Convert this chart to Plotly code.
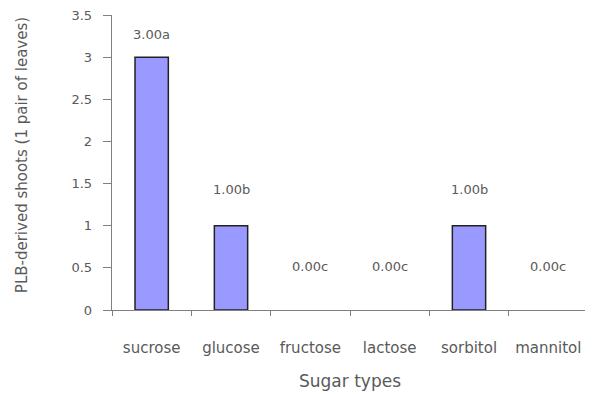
import plotly.graph_objects as go

categories = ["sucrose", "glucose", "fructose", "lactose", "sorbitol", "mannitol"]
values = [3.0, 1.0, 0.0, 0.0, 1.0, 0.0]
labels = ["3.00a", "1.00b", "0.00c", "0.00c", "1.00b", "0.00c"]
label_y = [3.27, 1.43, 0.52, 0.52, 1.43, 0.52]
y_title = "PLB-derived shoots (1 pair of leaves)"
x_title = "Sugar types"

FAM = "DejaVu Sans, Verdana, sans-serif"
GRAY = "#5a5a5a"

fig = go.Figure()
fig.add_trace(go.Bar(
    x=categories, y=values, width=0.42,
    marker=dict(color="#9999FF",
                line=dict(color="#222222", width=[1.5 if v > 0 else 0 for v in values])),
    showlegend=False,
))
for c, t, ly in zip(categories, labels, label_y):
    fig.add_annotation(x=c, y=ly, text=t, showarrow=False,
                       font=dict(family=FAM, size=13, color=GRAY))

# y-axis title placed as rotated text left of the tick labels
fig.add_annotation(text=y_title, xref="paper", yref="paper", x=-0.189, y=0.525,
                   xanchor="center", yanchor="middle", textangle=-90, showarrow=False,
                   font=dict(family=FAM, size=15, color=GRAY))

fig.update_layout(
    width=585, height=386,
    margin=dict(l=104, r=5, t=7, b=84, autoexpand=False),
    plot_bgcolor="white", paper_bgcolor="white",
    font=dict(family=FAM, size=13, color=GRAY),
)
fig.update_xaxes(
    automargin=False,
    showline=True, linecolor="#808080", linewidth=1,
    ticks="outside", ticklen=5, tickcolor="#808080",
    tickson="boundaries", ticklabelstandoff=24,
    title=dict(text=x_title, font=dict(family=FAM, size=17, color=GRAY), standoff=19),
    tickfont=dict(family=FAM, size=15, color=GRAY),
)
fig.update_yaxes(
    automargin=False,
    range=[0, 3.5], dtick=0.5, showgrid=False, zeroline=False,
    showline=True, linecolor="#808080", linewidth=1,
    ticks="outside", ticklen=8, tickcolor="#808080",
    ticksuffix="\u2007", ticklabeloverflow="allow",
    tickfont=dict(family=FAM, size=13, color=GRAY),
)
fig.write_html("out.html")
